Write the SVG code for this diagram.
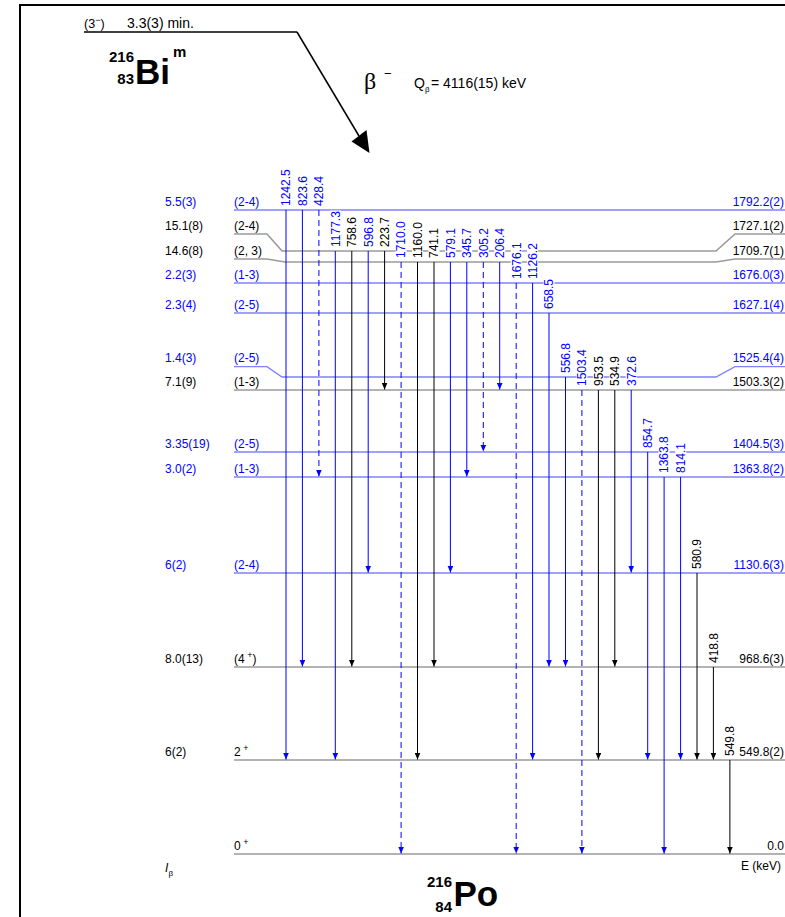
<svg xmlns="http://www.w3.org/2000/svg" width="785" height="917" viewBox="0 0 785 917">
<style>
text{font-family:"Liberation Sans",Arial,sans-serif;font-size:12px}
.tb{fill:#0000ff}.tk{fill:#000}
.lb{stroke:#8080ff;stroke-width:1.3;fill:none}
.lk{stroke:#9a9a9a;stroke-width:1.6;fill:none}
.gb{stroke:#0000ff;stroke-width:1;marker-end:url(#ab)}
.gk{stroke:#000;stroke-width:1;marker-end:url(#ak)}
.d{stroke-dasharray:6 4}
.bg{fill:#fff}
.r{text-anchor:end}
.nuc{font-weight:bold;font-size:15px}
.sym{font-weight:bold;font-size:35px}
.sup{font-size:9px}
.sub{font-size:8px}
</style>
<defs>
<marker id="ab" markerWidth="7" markerHeight="6" refX="7" refY="3" orient="auto" markerUnits="userSpaceOnUse"><path d="M0,0 L7,3 L0,6 z" fill="#0000ff"/></marker>
<marker id="ak" markerWidth="7" markerHeight="6" refX="7" refY="3" orient="auto" markerUnits="userSpaceOnUse"><path d="M0,0 L7,3 L0,6 z" fill="#000"/></marker>
</defs>
<rect width="785" height="917" fill="#fff"/>
<path d="M20,917 V5 H785" stroke="#000" stroke-width="2" fill="none"/>

<g id="parent">
<line x1="84" y1="32" x2="297" y2="32" stroke="#000" stroke-width="1.5"/>
<text x="84" y="28" style="font-size:12.5px">(3<tspan class="sup" dy="-5">−</tspan><tspan dy="5">)</tspan></text>
<text x="127" y="28" style="font-size:14px">3.3(3) min.</text>
<text x="134" y="62" class="nuc r">216</text>
<text x="134" y="84" class="nuc r">83</text>
<text x="135" y="83.5" class="sym">Bi</text>
<text x="173" y="57" class="nuc">m</text>
</g>

<g id="beta">
<polyline points="297,32 359,136" stroke="#000" stroke-width="1.5" fill="none"/>
<path d="M369.5,153 L351.5,141.5 L366.5,130 z" fill="#000"/>
<text x="364" y="89" style="font-family:'Liberation Serif',serif;font-size:24px">β</text>
<text x="384" y="78" style="font-size:13px">−</text>
<text x="414" y="88" style="font-size:14px">Q</text>
<text x="425" y="92" class="sub">β</text>
<text x="431" y="88" style="font-size:14px">= 4116(15) keV</text>
</g>

<g id="levels">
<g id="L1792"><line x1="234" y1="210" x2="785" y2="210" class="lb"/><text class="tb" x="165" y="205.5">5.5(3)</text><text class="tb" x="234" y="205.5">(2-4)</text><text class="tb r" x="784" y="205.5">1792.2(2)</text></g>
<g id="L1727"><polyline points="234,234 267,234 282,251 716,251 735,234 785,234" class="lk"/><text class="tk" x="165" y="229.5">15.1(8)</text><text class="tk" x="234" y="229.5">(2-4)</text><text class="tk r" x="784" y="229.5">1727.1(2)</text></g>
<g id="L1709"><polyline points="234,259 267,259 285,262 716,262 735,259 785,259" class="lk"/><text class="tk" x="165" y="254.5">14.6(8)</text><text class="tk" x="234" y="254.5">(2, 3)</text><text class="tk r" x="784" y="254.5">1709.7(1)</text></g>
<g id="L1676"><line x1="234" y1="283" x2="785" y2="283" class="lb"/><text class="tb" x="165" y="278.5">2.2(3)</text><text class="tb" x="234" y="278.5">(1-3)</text><text class="tb r" x="784" y="278.5">1676.0(3)</text></g>
<g id="L1627"><line x1="234" y1="313" x2="785" y2="313" class="lb"/><text class="tb" x="165" y="308.5">2.3(4)</text><text class="tb" x="234" y="308.5">(2-5)</text><text class="tb r" x="784" y="308.5">1627.1(4)</text></g>
<g id="L1525"><polyline points="234,366.7 267,366.7 282,377 716,377 735,366.7 785,366.7" class="lb"/><text class="tb" x="165" y="362">1.4(3)</text><text class="tb" x="234" y="362">(2-5)</text><text class="tb r" x="784" y="362">1525.4(4)</text></g>
<g id="L1503"><line x1="234" y1="390" x2="785" y2="390" class="lk"/><text class="tk" x="165" y="385.5">7.1(9)</text><text class="tk" x="234" y="385.5">(1-3)</text><text class="tk r" x="784" y="385.5">1503.3(2)</text></g>
<g id="L1404"><line x1="234" y1="452" x2="785" y2="452" class="lb"/><text class="tb" x="165" y="447.5">3.35(19)</text><text class="tb" x="234" y="447.5">(2-5)</text><text class="tb r" x="784" y="447.5">1404.5(3)</text></g>
<g id="L1363"><line x1="234" y1="477" x2="785" y2="477" class="lb"/><text class="tb" x="165" y="472.5">3.0(2)</text><text class="tb" x="234" y="472.5">(1-3)</text><text class="tb r" x="784" y="472.5">1363.8(2)</text></g>
<g id="L1130"><line x1="234" y1="573" x2="785" y2="573" class="lb"/><text class="tb" x="165" y="568.5">6(2)</text><text class="tb" x="234" y="568.5">(2-4)</text><text class="tb r" x="784" y="568.5">1130.6(3)</text></g>
<g id="L968"><line x1="234" y1="667" x2="785" y2="667" class="lk"/><text class="tk" x="165" y="662.5">8.0(13)</text><text class="tk" x="234" y="662.5">(4<tspan class="sup" dy="-5"> +</tspan><tspan dy="5">)</tspan></text><text class="tk r" x="784" y="662.5">968.6(3)</text></g>
<g id="L549"><line x1="234" y1="760" x2="785" y2="760" class="lk"/><text class="tk" x="165" y="755.5">6(2)</text><text class="tk" x="234" y="755.5">2<tspan class="sup" dy="-5"> +</tspan></text><text class="tk r" x="784" y="755.5">549.8(2)</text></g>
<g id="L0"><line x1="234" y1="854" x2="785" y2="854" class="lk"/><text class="tk" x="234" y="849.5">0<tspan class="sup" dy="-5"> +</tspan></text><text class="tk r" x="784" y="849.5">0.0</text></g>
</g>

<g id="gammas">
<line class="gb" x1="286" y1="210" x2="286" y2="759.5"/>
<line class="gb" x1="302.4" y1="210" x2="302.4" y2="666.5"/>
<line class="gb d" x1="318.9" y1="210" x2="318.9" y2="476.5"/>
<line class="gb" x1="335.3" y1="251" x2="335.3" y2="759.5"/>
<line class="gk" x1="351.8" y1="251" x2="351.8" y2="666.5"/>
<line class="gb" x1="368.2" y1="251" x2="368.2" y2="572.5"/>
<line class="gk" x1="384.6" y1="251" x2="384.6" y2="389.5"/>
<line class="gb d" x1="401.1" y1="262" x2="401.1" y2="853.5"/>
<line class="gk" x1="417.5" y1="262" x2="417.5" y2="759.5"/>
<line class="gk" x1="434" y1="262" x2="434" y2="666.5"/>
<line class="gb" x1="450.4" y1="262" x2="450.4" y2="572.5"/>
<line class="gb" x1="466.8" y1="262" x2="466.8" y2="476.5"/>
<line class="gb d" x1="483.3" y1="262" x2="483.3" y2="451.5"/>
<line class="gb" x1="499.7" y1="262" x2="499.7" y2="389.5"/>
<line class="gb d" x1="516.2" y1="283" x2="516.2" y2="853.5"/>
<line class="gb" x1="532.6" y1="283" x2="532.6" y2="759.5"/>
<line class="gb" x1="549" y1="313" x2="549" y2="666.5"/>
<line class="gb" x1="565.5" y1="377" x2="565.5" y2="666.5"/>
<line class="gb d" x1="581.9" y1="390" x2="581.9" y2="853.5"/>
<line class="gk" x1="598.4" y1="390" x2="598.4" y2="759.5"/>
<line class="gk" x1="614.8" y1="390" x2="614.8" y2="666.5"/>
<line class="gb" x1="631.2" y1="390" x2="631.2" y2="572.5"/>
<line class="gb" x1="647.7" y1="452" x2="647.7" y2="759.5"/>
<line class="gb" x1="664.1" y1="477" x2="664.1" y2="853.5"/>
<line class="gb" x1="680.6" y1="477" x2="680.6" y2="759.5"/>
<line class="gk" x1="697" y1="573" x2="697" y2="759.5"/>
<line class="gk" x1="713.4" y1="667" x2="713.4" y2="759.5"/>
<line class="gk" x1="729.9" y1="760" x2="729.9" y2="853.5"/>
</g>

<g id="gamma-labels">
<rect class="bg" x="280.5" y="169.3" width="11" height="37"/><text class="tb" transform="translate(290.3,206) rotate(-90)">1242.5</text>
<rect class="bg" x="296.9" y="176" width="11" height="30.3"/><text class="tb" transform="translate(306.7,206) rotate(-90)">823.6</text>
<rect class="bg" x="313.4" y="176" width="11" height="30.3"/><text class="tb" transform="translate(323.2,206) rotate(-90)">428.4</text>
<rect class="bg" x="329.8" y="210.6" width="11" height="37"/><text class="tb" transform="translate(339.6,247) rotate(-90)">1177.3</text>
<rect class="bg" x="346.3" y="217" width="11" height="30.3"/><text class="tk" transform="translate(356.1,247) rotate(-90)">758.6</text>
<rect class="bg" x="362.7" y="217" width="11" height="30.3"/><text class="tb" transform="translate(372.5,247) rotate(-90)">596.8</text>
<rect class="bg" x="379.1" y="217" width="11" height="30.3"/><text class="tk" transform="translate(388.9,247) rotate(-90)">223.7</text>
<rect class="bg" x="395.6" y="221.3" width="11" height="37"/><text class="tb" transform="translate(405.4,258) rotate(-90)">1710.0</text>
<rect class="bg" x="412" y="221.3" width="11" height="37"/><text class="tk" transform="translate(421.8,258) rotate(-90)">1160.0</text>
<rect class="bg" x="428.5" y="228" width="11" height="30.3"/><text class="tk" transform="translate(438.3,258) rotate(-90)">741.1</text>
<rect class="bg" x="444.9" y="228" width="11" height="30.3"/><text class="tb" transform="translate(454.7,258) rotate(-90)">579.1</text>
<rect class="bg" x="461.3" y="228" width="11" height="30.3"/><text class="tb" transform="translate(471.1,258) rotate(-90)">345.7</text>
<rect class="bg" x="477.8" y="228" width="11" height="30.3"/><text class="tb" transform="translate(487.6,258) rotate(-90)">305.2</text>
<rect class="bg" x="494.2" y="228" width="11" height="30.3"/><text class="tb" transform="translate(504,258) rotate(-90)">206.4</text>
<rect class="bg" x="510.7" y="242.3" width="11" height="37"/><text class="tb" transform="translate(520.5,279) rotate(-90)">1676.1</text>
<rect class="bg" x="527.1" y="242.3" width="11" height="37"/><text class="tb" transform="translate(536.9,279) rotate(-90)">1126.2</text>
<rect class="bg" x="543.5" y="279" width="11" height="30.3"/><text class="tb" transform="translate(553.3,309) rotate(-90)">658.5</text>
<rect class="bg" x="560" y="343" width="11" height="30.3"/><text class="tb" transform="translate(569.8,373) rotate(-90)">556.8</text>
<rect class="bg" x="576.4" y="349.3" width="11" height="37"/><text class="tb" transform="translate(586.2,386) rotate(-90)">1503.4</text>
<rect class="bg" x="592.9" y="356" width="11" height="30.3"/><text class="tk" transform="translate(602.7,386) rotate(-90)">953.5</text>
<rect class="bg" x="609.3" y="356" width="11" height="30.3"/><text class="tk" transform="translate(619.1,386) rotate(-90)">534.9</text>
<rect class="bg" x="625.7" y="356" width="11" height="30.3"/><text class="tb" transform="translate(635.5,386) rotate(-90)">372.6</text>
<rect class="bg" x="642.2" y="418" width="11" height="30.3"/><text class="tb" transform="translate(652,448) rotate(-90)">854.7</text>
<rect class="bg" x="658.6" y="436.3" width="11" height="37"/><text class="tb" transform="translate(668.4,473) rotate(-90)">1363.8</text>
<rect class="bg" x="675.1" y="443" width="11" height="30.3"/><text class="tb" transform="translate(684.9,473) rotate(-90)">814.1</text>
<rect class="bg" x="691.5" y="539" width="11" height="30.3"/><text class="tk" transform="translate(701.3,569) rotate(-90)">580.9</text>
<rect class="bg" x="707.9" y="633" width="11" height="30.3"/><text class="tk" transform="translate(717.7,663) rotate(-90)">418.8</text>
<rect class="bg" x="724.4" y="726" width="11" height="30.3"/><text class="tk" transform="translate(734.2,756) rotate(-90)">549.8</text>
</g>

<g id="daughter">
<text x="452" y="887" class="nuc r">216</text>
<text x="452" y="912" class="nuc r">84</text>
<text x="453.5" y="906" class="sym">Po</text>
</g>

<g id="axis-labels">
<text x="165" y="872" font-style="italic">I</text>
<text x="168.5" y="876" class="sub">β</text>
<text x="741" y="870">E (keV)</text>
</g>
</svg>
